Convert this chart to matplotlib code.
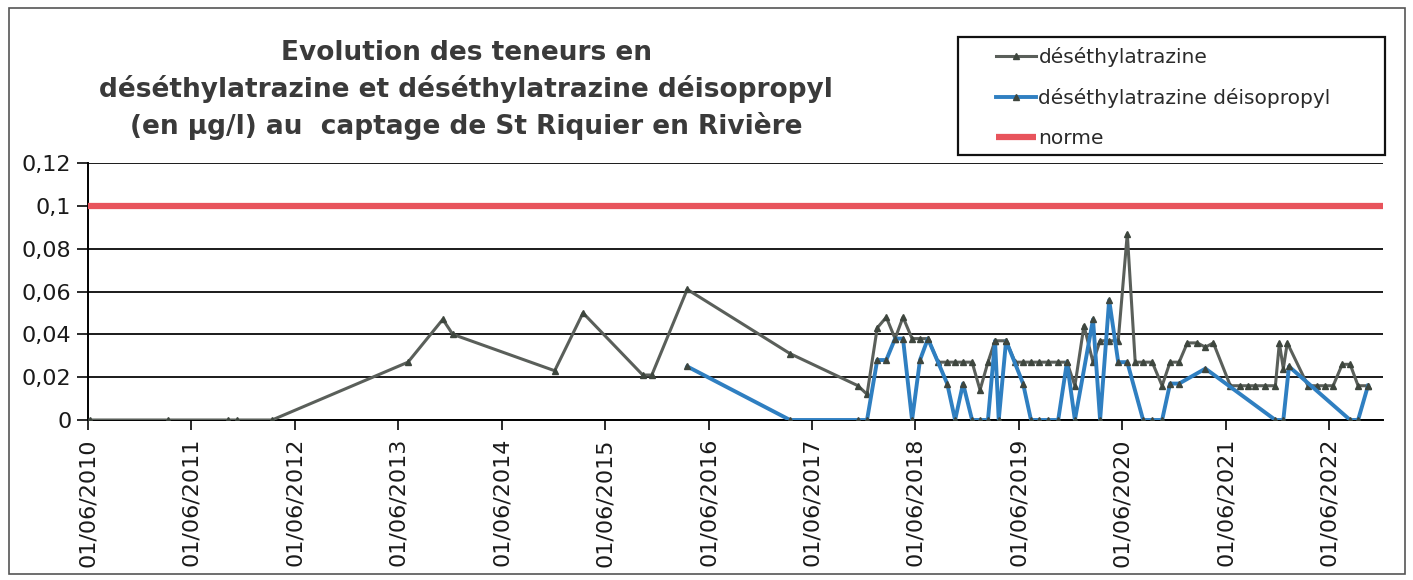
import pandas as pd
import numpy as np
import matplotlib.pyplot as plt
import matplotlib.dates as mdates
from matplotlib.ticker import FuncFormatter, MultipleLocator
from matplotlib.patches import Rectangle

# Data
deset_dates = ['2010-06-08', '2011-03-10', '2011-10-08', '2011-11-08', '2012-03-12',
               '2013-07-05', '2013-11-05', '2013-12-10', '2014-12-05', '2015-03-15',
               '2015-10-12', '2015-11-13', '2016-03-17', '2017-03-15', '2017-11-10',
               '2017-12-12', '2018-01-17', '2018-02-18', '2018-03-21', '2018-04-18',
               '2018-05-20', '2018-06-17', '2018-07-15', '2018-08-20', '2018-09-21',
               '2018-10-19', '2018-11-16', '2018-12-18', '2019-01-15', '2019-02-12',
               '2019-03-09', '2019-04-17', '2019-05-19', '2019-06-16', '2019-07-14',
               '2019-08-11', '2019-09-12', '2019-10-18', '2019-11-18', '2019-12-16',
               '2020-01-17', '2020-02-18', '2020-03-14', '2020-04-15', '2020-05-17',
               '2020-06-18', '2020-07-16', '2020-08-13', '2020-09-14', '2020-10-19',
               '2020-11-16', '2020-12-18', '2021-01-16', '2021-02-20', '2021-03-21',
               '2021-04-18', '2021-06-17', '2021-07-22', '2021-08-19', '2021-09-13',
               '2021-10-18', '2021-11-23', '2021-12-07', '2021-12-21', '2022-01-04',
               '2022-03-18', '2022-04-19', '2022-05-18', '2022-06-15', '2022-07-17',
               '2022-08-14', '2022-09-11', '2022-10-16']
deset_vals = [0, 0, 0, 0, 0,
              0.027, 0.047, 0.040, 0.023, 0.050,
              0.021, 0.021, 0.061, 0.031, 0.016,
              0.012, 0.043, 0.048, 0.038, 0.048,
              0.038, 0.038, 0.038, 0.027, 0.027,
              0.027, 0.027, 0.027, 0.014, 0.027,
              0.037, 0.037, 0.027, 0.027, 0.027,
              0.027, 0.027, 0.027, 0.027, 0.016,
              0.044, 0.027, 0.037, 0.037, 0.037,
              0.087, 0.027, 0.027, 0.027, 0.016,
              0.027, 0.027, 0.036, 0.036, 0.034,
              0.036, 0.016, 0.016, 0.016, 0.016,
              0.016, 0.016, 0.036, 0.024, 0.036,
              0.016, 0.016, 0.016, 0.016, 0.026,
              0.026, 0.016, 0.016]

deiso_dates = ['2016-03-17', '2017-03-15', '2017-11-10', '2017-12-12', '2018-01-17',
               '2018-02-18', '2018-03-21', '2018-04-18', '2018-05-20', '2018-06-17',
               '2018-07-15', '2018-09-21', '2018-10-19', '2018-11-16', '2018-12-18',
               '2019-01-15', '2019-02-12', '2019-03-09', '2019-03-22', '2019-04-17',
               '2019-06-16', '2019-07-14', '2019-08-11', '2019-09-12', '2019-10-18',
               '2019-11-18', '2019-12-16', '2020-02-18', '2020-03-14', '2020-04-15',
               '2020-05-17', '2020-06-18', '2020-08-13', '2020-09-14', '2020-10-19',
               '2020-11-16', '2020-12-18', '2021-03-21', '2021-11-23', '2021-12-21',
               '2022-01-10', '2022-08-14', '2022-09-11', '2022-10-16']
deiso_vals = [0.025, 0, 0, 0, 0.028,
              0.028, 0.038, 0.038, 0, 0.028,
              0.038, 0.017, 0, 0.017, 0,
              0, 0, 0.037, 0, 0.037,
              0.017, 0, 0, 0, 0,
              0.027, 0, 0.047, 0, 0.056,
              0.027, 0.027, 0, 0, 0,
              0.017, 0.017, 0.024, 0, 0,
              0.025, 0, 0, 0.016]

norme_dates = ['2010-06-01', '2022-12-08']
norme_vals = [0.1, 0.1]

title = ("Evolution des teneurs en\n"
         "déséthylatrazine et déséthylatrazine déisopropyl\n"
         "(en µg/l) au  captage de St Riquier en Rivière")

# Figure
fig = plt.figure(figsize=(14.13, 5.8), dpi=100)
ax = fig.add_axes([88 / 1413, 1 - 420 / 580, (1383 - 88) / 1413, (420 - 163) / 580])

norme_line, = ax.plot(pd.to_datetime(norme_dates), norme_vals, color='#e8545c', lw=4.5,
                      solid_capstyle='butt', label='norme', zorder=3)
deset_line, = ax.plot(pd.to_datetime(deset_dates), deset_vals, color='#5a5f5a', lw=2.2,
                      marker='^', markersize=4, markerfacecolor='#3e463e',
                      markeredgecolor='#3e463e', label='déséthylatrazine', zorder=4)
deiso_line, = ax.plot(pd.to_datetime(deiso_dates), deiso_vals, color='#2f7fc1', lw=2.8,
                      marker='^', markersize=4, markerfacecolor='#3e463e',
                      markeredgecolor='#3e463e', label='déséthylatrazine déisopropyl', zorder=5)

ax.set_xlim(pd.Timestamp('2010-06-01'), pd.Timestamp('2022-12-08'))
ax.set_ylim(0, 0.12)
ax.yaxis.set_major_locator(MultipleLocator(0.02))
ax.yaxis.set_major_formatter(FuncFormatter(lambda v, p: f'{v:g}'.replace('.', ',')))
ax.xaxis.set_major_locator(mdates.YearLocator(base=1, month=6, day=1))
ax.xaxis.set_major_formatter(mdates.DateFormatter('%d/%m/%Y'))

ax.grid(axis='y', color='#1a1a1a', lw=1.4, zorder=1)
ax.set_axisbelow(True)
for s in ['top', 'right']:
    ax.spines[s].set_visible(False)
ax.spines['left'].set_linewidth(1.4)
ax.spines['bottom'].set_linewidth(1.4)
ax.tick_params(axis='y', labelsize=16, length=8, width=1.3, pad=4, colors='#1a1a1a')
ax.tick_params(axis='x', labelsize=16, length=7, width=1.3, pad=6, colors='#1a1a1a',
               labelrotation=90)

fig.text(0.33, 1 - 40 / 580, title, ha='center', va='top', fontsize=19,
         fontweight='bold', color='#3a3a3a', linespacing=1.4)

# Legend box and entries
fig.patches.append(Rectangle((958 / 1413, 1 - 155 / 580), 427 / 1413, 118 / 580,
                             transform=fig.transFigure, fill=False, edgecolor='#111111', lw=1.6))
fig.legend(handles=[deset_line, deiso_line, norme_line], loc='upper left',
           bbox_to_anchor=(982 / 1413, 1 - 33 / 580), frameon=False, fontsize=14.5,
           handlelength=2.0, handletextpad=0.1, labelspacing=1.05, borderpad=0.2,
           labelcolor='#2a2a2a')

# Outer border
fig.patches.append(Rectangle((9 / 1413, 6 / 580), 1396 / 1413, 566 / 580,
                             transform=fig.transFigure, fill=False, edgecolor='#555555', lw=1.2))

fig.savefig('out.png', dpi=100)
